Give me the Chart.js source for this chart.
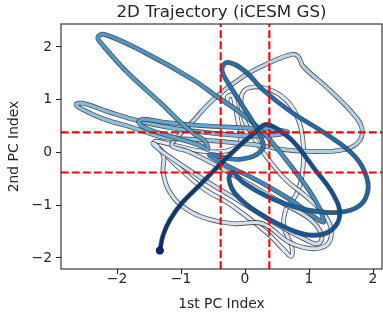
<!DOCTYPE html>
<html>
<head>
<meta charset="utf-8">
<script src="https://cdn.jsdelivr.net/npm/chart.js@4/dist/chart.umd.min.js"></script>
<style>
  html, body { margin: 0; padding: 0; background: #ffffff; overflow: hidden; }
  #wrap { width: 383px; height: 326px; overflow: hidden; }
  canvas { display: block; }
</style>
</head>
<body>
<div id="wrap"><canvas id="chart" width="387" height="326"></canvas></div>
<script>
// Trajectory in the plane of the first two principal components (time-ordered).
const pc1 = [
  -0.28, -0.27, -0.20, -0.16, -0.11, -0.06, -0.20, -0.63, -1.09, -1.41,
  -1.33, -0.70, -0.19,  0.34,  0.61,  0.72,  0.73,  0.61,  0.64,  0.80,
   0.89,  0.91,  0.80,  0.58,  0.27,  0.03, -0.06, -0.03,  0.08,  0.31,
   0.63,  0.94,  1.20,  1.34,  1.31,  1.14,  0.91,  0.67,  0.27, -0.19,
  -0.66, -1.00, -1.20, -1.28, -1.27, -1.36, -1.44, -1.30, -0.70, -0.08,
   0.52,  0.94,  1.14,  1.20,  1.02,  0.63,  0.08, -0.47, -0.89, -1.14,
  -1.05, -0.86, -0.50, -0.03,  0.36,  0.73,  0.83,  0.91,  1.28,  1.67,
   1.83,  1.75,  1.48,  1.02,  0.55,  0.27, -0.23, -0.78, -1.25, -1.75,
  -2.22, -2.55, -2.64, -2.52, -2.11, -1.64, -1.17, -0.63, -0.08,  0.36,
   0.67,  0.39, -0.08, -0.70, -1.25, -1.59, -1.66, -1.53, -1.09, -0.70,
  -0.58, -0.64, -0.78, -0.97, -1.33, -1.84, -2.22, -2.30, -2.20, -1.59,
  -0.81, -0.44, -0.08,  0.27,  0.70,  1.09,  1.23,  1.14,  0.70,  0.16,
  -0.31, -0.55, -0.08,  0.27,  0.20, -0.06, -0.25, -0.36, -0.27,  0.00,
   0.28,  0.73,  1.28,  1.72,  1.91,  1.89,  1.72,  1.38,  0.86,  0.34,
  -0.03, -0.19, -0.25, -0.14,  0.20,  0.70,  1.06,  1.34,  1.48,  1.38,
   1.09,  0.75,  0.47,  0.31,  0.16, -0.03, -0.36, -0.70, -0.98, -1.17,
  -1.28, -1.33
];
const pc2 = [
   0.93,  1.06,  1.08,  0.93,  0.59,  0.28,  0.06,  0.02,  0.13,  0.21,
   0.06, -0.64, -1.02, -1.52, -1.85, -1.97, -1.78, -1.42, -1.08, -0.80,
  -0.45,  0.15,  0.72,  1.06,  1.23,  1.21,  1.04,  0.68,  0.40, -0.04,
  -0.51, -0.82, -1.12, -1.42, -1.71, -1.82, -1.80, -1.69, -1.35, -1.35,
  -1.23, -1.00, -0.70, -0.36, -0.08,  0.11,  0.17,  0.02, -0.47, -0.93,
  -1.38, -1.65, -1.73, -1.57, -1.27, -0.99, -0.61, -0.23,  0.02,  0.13,
   0.30,  0.53,  1.00,  1.44,  1.69,  1.86,  1.82,  1.63,  1.23,  0.76,
   0.44,  0.17,  0.04,  0.02,  0.06,  0.13,  0.19,  0.25,  0.28,  0.47,
   0.64,  0.82,  0.91,  0.93,  0.76,  0.59,  0.47,  0.38,  0.32,  0.32,
   0.38,  0.44,  0.47,  0.51,  0.57,  0.63,  0.57,  0.45,  0.28,  0.13,
   0.06,  0.23,  0.34,  0.53,  0.95,  1.52,  2.03,  2.18,  2.24,  1.91,
   1.38,  1.06,  0.76,  0.40, -0.23, -0.89, -1.31, -1.27, -0.89, -0.51,
  -0.23, -0.04, -0.13,  0.06,  0.40,  0.93,  1.29,  1.57,  1.71,  1.54,
   1.19,  0.76,  0.34, -0.08, -0.51, -0.85, -1.06, -1.14, -1.06, -0.83,
  -0.57, -0.38, -0.51, -0.80, -1.14, -1.46, -1.57, -1.48, -1.19, -0.80,
  -0.32,  0.21,  0.47,  0.53,  0.38,  0.19, -0.19, -0.61, -0.95, -1.27,
  -1.57, -1.86
];
const xTicks = [-2, -1, 0, 1, 2];
const yTicks = [-2, -1, 0, 1, 2];
const thresholds = [-0.38, 0.38];

const X_MIN = -2.875, X_MAX = 2.14;
const Y_MIN = -2.21, Y_MAX = 2.436;

// Shade along the path (index -> position on the Blues ramp).
const shadeStops = [
  [0, 0.08], [59, 0.24], [60, 0.28], [75, 0.34], [76, 0.39], [90, 0.47],
  [91, 0.52], [101, 0.56], [102, 0.57], [113, 0.62], [114, 0.63], [121, 0.66],
  [122, 0.72], [153, 0.90], [154, 0.93], [161, 1.00]
];
function shadeAt(i) {
  for (let k = 1; k < shadeStops.length; k++) {
    const [i0, v0] = shadeStops[k - 1], [i1, v1] = shadeStops[k];
    if (i <= i1) return v0 + (v1 - v0) * Math.max(0, (i - i0)) / (i1 - i0);
  }
  return shadeStops[shadeStops.length - 1][1];
}
const BLUES = ['#f7fbff', '#deebf7', '#c6dbef', '#9ecae1', '#6baed6', '#4292c6', '#2171b5', '#08519c', '#08306b'];
function hex(h) { return [1, 3, 5].map(o => parseInt(h.substr(o, 2), 16)); }
const BL = BLUES.map(hex);
function blues(t) {
  t = Math.min(1, Math.max(0, t));
  const p = t * 8, i = Math.min(7, Math.floor(p)), f = p - i;
  const a = BL[i], b = BL[i + 1];
  const c = a.map((v, j) => Math.round(v + (b[j] - v) * f));
  return `rgb(${c[0]},${c[1]},${c[2]})`;
}

const points = pc1.map((x, i) => ({ x, y: pc2[i] }));
const N = points.length;
const OUTLINE = 'rgba(55,55,55,0.85)';
const CLEAR = 'rgba(0,0,0,0)';

// The path is split into short pieces so that later pieces (with their dark rims)
// are drawn over earlier ones.
const datasets = [];
const CHUNK = 5;
const nChunks = Math.ceil((N - 1) / CHUNK);
for (let k = 0; k < nChunks; k++) {
  const s = k * CHUNK, e = Math.min(N - 1, s + CHUNK);
  const a = Math.max(0, s - 1), b = Math.min(N - 1, e + 1);
  const data = points.slice(a, b + 1);
  const pad = (j) => (j + a < s) || (j + a >= e);
  datasets.push({
    type: 'line', data, order: 2000 - 2 * k + 1, tension: 0.4,
    pointRadius: 0, borderWidth: 4.8, borderCapStyle: 'butt', borderJoinStyle: 'round',
    segment: { borderColor: c => pad(c.p0DataIndex) ? CLEAR : OUTLINE }
  });
  datasets.push({
    type: 'line', data, order: 2000 - 2 * k, tension: 0.4,
    pointRadius: 0, borderWidth: 3.1, borderCapStyle: 'round', borderJoinStyle: 'round',
    segment: { borderColor: c => pad(c.p0DataIndex) ? CLEAR : blues(shadeAt(c.p0DataIndex + a + 0.5)) }
  });
}

// Threshold guides
const redStyle = { type: 'line', borderColor: '#ff0000', borderWidth: 2.1, borderDash: [7.7, 3.3], pointRadius: 0, order: 10, tension: 0 };
thresholds.forEach(v => {
  datasets.push(Object.assign({ data: [{ x: v, y: Y_MIN }, { x: v, y: Y_MAX }] }, redStyle));
  datasets.push(Object.assign({ data: [{ x: X_MIN, y: v }, { x: X_MAX, y: v }] }, redStyle));
});

// Final state marker
datasets.push({
  type: 'scatter', data: [points[N - 1]], order: 0,
  pointRadius: 3.6, pointBackgroundColor: '#15237d', pointBorderColor: '#0b1450', pointBorderWidth: 1
});

const FONT = 'DejaVu Sans';
const INK = '#262626';
const TITLE = '2D Trajectory (iCESM GS)';
const fmt = v => (v < 0 ? '\u2212' + Math.abs(v) : String(v));

// Axes frame plus a title centred over the plotting area.
const frame = {
  id: 'frame',
  afterDraw(chart) {
    const { ctx, chartArea: a } = chart;
    ctx.save();
    ctx.strokeStyle = INK;
    ctx.lineWidth = 1.1;
    ctx.strokeRect(a.left, a.top, a.right - a.left, a.bottom - a.top);
    ctx.fillStyle = INK;
    ctx.font = `16.7px "${FONT}"`;
    ctx.textAlign = 'center';
    ctx.textBaseline = 'alphabetic';
    ctx.fillText(TITLE, (a.left + a.right) / 2, 17);
    ctx.restore();
  }
};

const noPad = s => { s.paddingLeft = 0; s.paddingRight = 0; s.paddingTop = 0; s.paddingBottom = 0; };

new Chart(document.getElementById('chart'), {
  type: 'line',
  data: { datasets },
  options: {
    responsive: false,
    devicePixelRatio: 1,
    animation: false,
    events: [],
    layout: { padding: { left: 0, right: 1, top: 24, bottom: 0 } },
    plugins: {
      legend: { display: false },
      tooltip: { enabled: false },
      title: { display: false }
    },
    scales: {
      x: {
        type: 'linear', min: X_MIN, max: X_MAX,
        afterBuildTicks: s => { s.ticks = xTicks.map(v => ({ value: v })); },
        afterFit: s => { s.height = 57; noPad(s); },
        grid: { display: true, drawOnChartArea: false, drawTicks: true, tickLength: 5, tickWidth: 1.1, tickColor: INK },
        border: { display: false },
        ticks: { color: INK, autoSkip: false, maxRotation: 0, padding: -3, font: { family: FONT, size: 13.9 }, callback: v => fmt(v) },
        title: { display: true, text: '1st PC Index', color: INK, font: { family: FONT, size: 13.9 }, padding: { top: 0, bottom: 13 } }
      },
      y: {
        type: 'linear', min: Y_MIN, max: Y_MAX,
        afterBuildTicks: s => { s.ticks = yTicks.map(v => ({ value: v })); },
        afterFit: s => { s.width = 61; noPad(s); },
        grid: { display: true, drawOnChartArea: false, drawTicks: true, tickLength: 5, tickWidth: 1.1, tickColor: INK },
        border: { display: false },
        ticks: { color: INK, autoSkip: false, padding: 4, font: { family: FONT, size: 13.9 }, callback: v => fmt(v) },
        title: { display: true, text: '2nd PC Index', color: INK, font: { family: FONT, size: 13.9 }, padding: { top: 6, bottom: 0 } }
      }
    }
  },
  plugins: [frame]
});
</script>
</body>
</html>
